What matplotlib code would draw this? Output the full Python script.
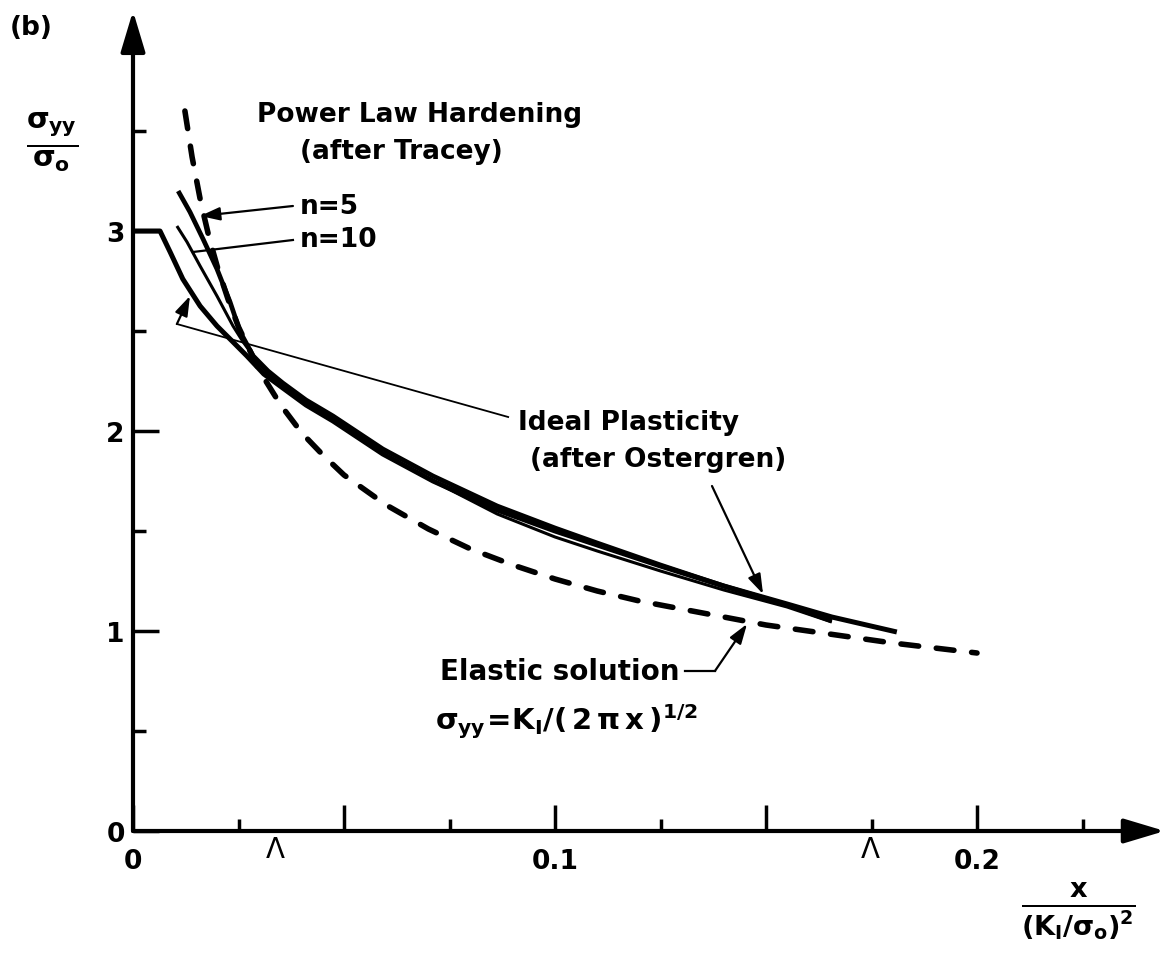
import matplotlib
matplotlib.use("Agg")
import matplotlib.pyplot as plt

plt.rcParams['font.family'] = ['DejaVu Sans']
plt.rcParams['font.weight'] = 'bold'
plt.rcParams['mathtext.fontset'] = 'custom'
plt.rcParams['mathtext.rm'] = 'DejaVu Sans:bold'
plt.rcParams['mathtext.it'] = 'DejaVu Sans:bold'
plt.rcParams['mathtext.bf'] = 'DejaVu Sans:bold'

# values (x / (K_I/sigma_0)^2 , sigma_yy / sigma_0)
elastic_x = [0.0123, 0.014, 0.016, 0.018, 0.020, 0.0225, 0.025, 0.0275, 0.030, 0.035,
             0.040, 0.045, 0.050, 0.060, 0.070, 0.080, 0.090, 0.100, 0.110, 0.120,
             0.130, 0.140, 0.150, 0.160, 0.170, 0.180, 0.190, 0.200]
elastic_y = [3.60, 3.37, 3.15, 2.97, 2.82, 2.66, 2.52, 2.41, 2.30, 2.13,
             1.99, 1.88, 1.78, 1.63, 1.51, 1.41, 1.33, 1.26, 1.20, 1.15,
             1.11, 1.07, 1.03, 1.00, 0.97, 0.94, 0.915, 0.89]

ideal_x = [0.0, 0.0064, 0.0088, 0.0118, 0.0159, 0.0199, 0.0237, 0.027, 0.0310, 0.0355,
           0.0410, 0.0474, 0.0592, 0.0711, 0.0863, 0.100, 0.110, 0.125, 0.140, 0.155,
           0.1656, 0.181]
ideal_y = [3.0, 3.0, 2.895, 2.76, 2.625, 2.525, 2.445, 2.375, 2.285, 2.215,
           2.13, 2.05, 1.885, 1.75, 1.605, 1.50, 1.43, 1.325, 1.225, 1.135,
           1.07, 0.995]

n5_x = [0.0107, 0.0135, 0.0166, 0.0199, 0.0230, 0.0254, 0.0285, 0.0320, 0.0355, 0.0410,
        0.0474, 0.0592, 0.0711, 0.0863, 0.100, 0.110, 0.125, 0.140, 0.155, 0.1656]
n5_y = [3.20, 3.095, 2.96, 2.81, 2.645, 2.495, 2.375, 2.30, 2.24, 2.155,
        2.075, 1.91, 1.775, 1.625, 1.515, 1.44, 1.33, 1.225, 1.13, 1.05]

n10_x = [0.0104, 0.0128, 0.0159, 0.0199, 0.0237, 0.0261, 0.029, 0.0320, 0.0355, 0.0410,
         0.0474, 0.0592, 0.0711, 0.0863, 0.100, 0.110, 0.125, 0.140, 0.155, 0.1656]
n10_y = [3.025, 2.945, 2.825, 2.675, 2.525, 2.445, 2.36, 2.285, 2.225, 2.14,
         2.06, 1.89, 1.75, 1.585, 1.47, 1.40, 1.30, 1.205, 1.12, 1.045]

# plastic zone marks under the x axis
zone_marks = [0.0336, 0.1746]

x_major = [0, 0.05, 0.1, 0.15, 0.2]
x_labels = ['0', '', '0.1', '', '0.2']
x_minor = [0.025, 0.075, 0.125, 0.175, 0.225]
y_major = [0, 1, 2, 3]
y_labels = ['0', '1', '2', '3']
y_minor = [0.5, 1.5, 2.5, 3.5]

fig = plt.figure(figsize=(11.68, 9.62), dpi=100)
ax = fig.add_axes([133 / 1168, 130 / 962, 0.245 * 4220 / 1168, 820 / 962])
ax.set_xlim(0, 0.245)
ax.set_ylim(0, 4.1)
for s in ax.spines.values():
    s.set_visible(False)

# axes drawn as arrows
arrow_kw = dict(arrowstyle='-|>,head_length=1.0,head_width=0.3', lw=3, color='black',
                mutation_scale=25, shrinkA=0, shrinkB=0)
ax.annotate('', xy=(0.2445, 0), xytext=(0, 0), arrowprops=arrow_kw, annotation_clip=False)
ax.annotate('', xy=(0, 4.1), xytext=(0, 0), arrowprops=arrow_kw, annotation_clip=False)

ax.set_xticks(x_major, x_labels)
ax.set_xticks(x_minor, minor=True)
ax.set_yticks(y_major, y_labels)
ax.set_yticks(y_minor, minor=True)
ax.tick_params(which='both', direction='in', width=2.5, labelsize=19)
ax.tick_params(which='major', length=19)
ax.tick_params(which='minor', length=9)
ax.tick_params(axis='x', pad=12)
ax.tick_params(axis='y', pad=6)

# curves
ax.plot(elastic_x, elastic_y, color='black', lw=4, linestyle=(0, (3.2, 3.2)),
        dash_capstyle='round', dash_joinstyle='round', clip_on=False)
ax.plot(ideal_x, ideal_y, color='black', lw=3.6, solid_capstyle='butt',
        solid_joinstyle='round', clip_on=False)
ax.plot(n5_x, n5_y, color='black', lw=3.4, solid_capstyle='butt',
        solid_joinstyle='round', clip_on=False)
ax.plot(n10_x, n10_y, color='black', lw=2.2, solid_capstyle='butt',
        solid_joinstyle='round', clip_on=False)

for xm in zone_marks:
    ax.text(xm, -0.02, 'Λ', ha='center', va='top', fontsize=20, fontweight='normal')

# labels and leaders
txt = dict(fontsize=19, ha='left', va='center')
ax.text(0.0294, 3.585, 'Power Law Hardening', **txt)
ax.text(0.0396, 3.40, '(after Tracey)', **txt)
ax.text(0.0396, 3.125, 'n=5', **txt)
ax.text(0.0396, 2.96, 'n=10', **txt)
ax.text(0.0912, 2.045, 'Ideal Plasticity', **txt)
ax.text(0.0941, 1.86, '(after Ostergren)', **txt)
ax.text(0.0727, 0.80, 'Elastic solution', fontsize=20, ha='left', va='center')
ax.text(0.0716, 0.51, r'$\sigma_{yy}\!=\!K_{\rm I}/(\,2\,\pi\,x\,)^{1/2}$', fontsize=21,
        ha='left', va='baseline')

lead = dict(arrowstyle='-|>,head_length=0.6,head_width=0.2', lw=1.6, color='black',
            mutation_scale=20, shrinkA=0, shrinkB=0)
ax.annotate('', xy=(0.0159, 3.075), xytext=(0.0379, 3.125), arrowprops=lead)
ax.plot([0.0379, 0.0142], [2.955, 2.895], color='black', lw=1.6)
ax.plot([0.0889, 0.0104], [2.07, 2.535], color='black', lw=1.3)
ax.annotate('', xy=(0.0135, 2.675), xytext=(0.0104, 2.535), arrowprops=lead)
ax.annotate('', xy=(0.1493, 1.185), xytext=(0.1372, 1.725), arrowprops=lead)
ax.plot([0.1308, 0.1379], [0.80, 0.80], color='black', lw=1.6)
ax.annotate('', xy=(0.1455, 1.035), xytext=(0.1379, 0.80), arrowprops=lead)

fig.text(10 / 1168, 1 - 28 / 962, '(b)', fontsize=19, ha='left', va='center')
fig.text(52 / 1168, 1 - 142 / 962, r'$\frac{\sigma_{yy}}{\sigma_o}$', fontsize=30,
         ha='center', va='center')
fig.text(1078 / 1168, 1 - 912 / 962, r'$\frac{x}{(K_{\rm I}/\sigma_o)^2}$', fontsize=28,
         ha='center', va='center')

fig.savefig('out.png', dpi=100)
